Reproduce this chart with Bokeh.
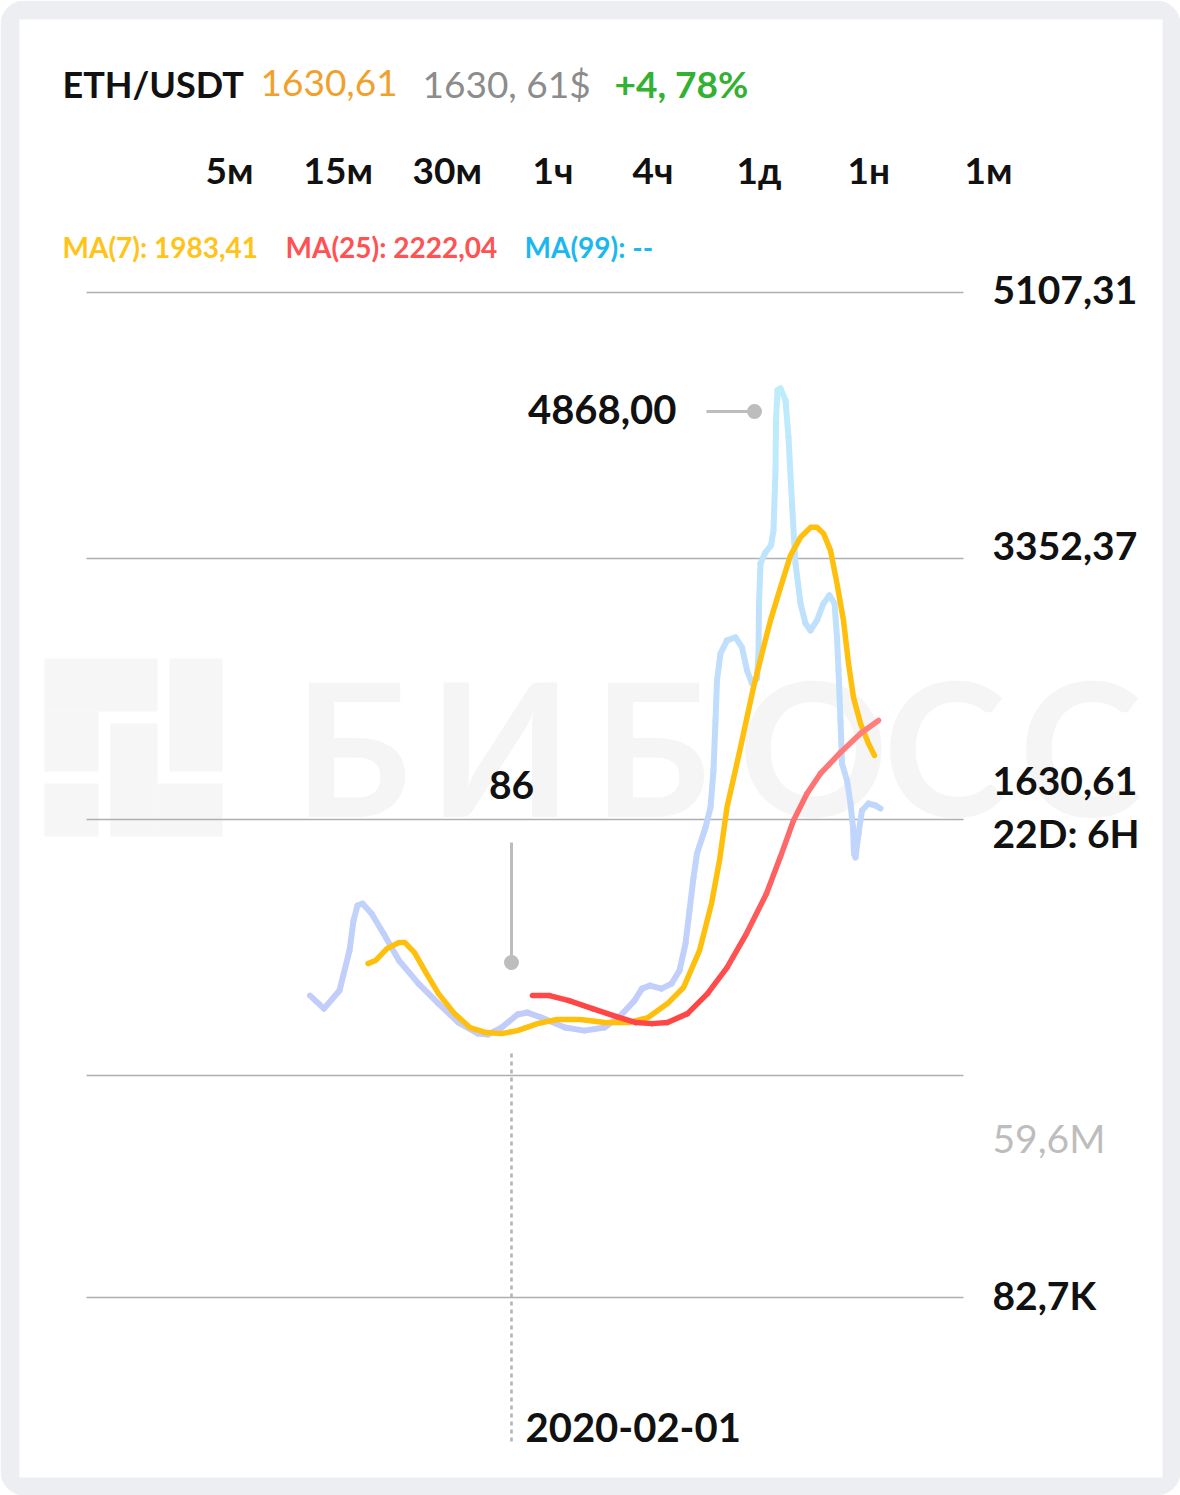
import numpy as np
from bokeh.plotting import figure
from bokeh.models import Range1d
from bokeh.core.properties import value
from bokeh.embed import file_html
from bokeh.resources import INLINE

# ---------------- data ----------------
pair = "ETH/USDT"
last_price = "1630,61"
last_usd = "1630, 61$"
change = "+4, 78%"
timeframes = ["5м", "15м", "30м", "1ч", "4ч", "1д", "1н", "1м"]
ma_labels = ["MA(7): 1983,41", "MA(25): 2222,04", "MA(99): --"]
price_ticks = [5107.31, 3352.37, 1630.61]
price_tick_labels = ["5107,31", "3352,37", "1630,61"]
countdown = "22D: 6H"
vol_ticks = [59.6e6, 82.7e3]
vol_tick_labels = ["59,6M", "82,7K"]
high_label = "4868,00"
low_label = "86"
date_label = "2020-02-01"
watermark = "БИБОСС"

# days relative to 2020-02-01, price in USDT
price_days = [-403, -375, -344, -324, -316, -308, -298, -280, -256, -225, -186, -146, -106, -67, -47,
              -20, 12, 32, 60, 107, 146, 186, 218, 246, 261, 277, 300, 320, 336, 348, 356, 364, 371,
              388, 398, 404, 408, 411, 418, 431, 448, 461, 471, 481, 491, 494, 495, 498, 508, 519,
              524, 528, 529, 532, 538, 548, 554, 561, 568, 578, 588, 598, 611, 624, 636, 646, 651,
              654, 658, 661, 671, 678, 683, 685, 688, 694, 701, 714, 728, 738]
price_vals = [469, 383, 502, 766, 964, 1063, 1076, 1010, 878, 700, 548, 416, 291, 218, 212,
              258, 344, 357, 324, 258, 238, 258, 337, 436, 515, 535, 515, 548, 634, 812, 1030, 1248, 1406,
              1578, 1710, 1954, 2284, 2548, 2726, 2812, 2832, 2766, 2614, 2528, 2561, 2726, 3056, 3320,
              3393, 3439, 3538, 3934, 4264, 4462, 4475, 4396, 4152, 3716, 3320, 3056, 2924, 2878, 2944,
              3056, 3109, 3056, 2832, 2614, 2284, 2000, 1888, 1736, 1578, 1406, 1380, 1538, 1690, 1736,
              1723, 1703]
ma7_days = [-287, -272, -249, -225, -213, -194, -170, -146, -114, -83, -51, -20, 12, 52, 91, 138, 186,
            234, 273, 312, 344, 376, 400, 416, 431, 458, 484, 504, 518, 538, 558, 578, 598, 611, 624,
            638, 651, 664, 674, 684, 698, 714, 726]
ma7_vals = [680, 700, 779, 819, 819, 753, 614, 482, 350, 258, 225, 218, 238, 284, 311, 311, 291, 291,
            324, 416, 522, 766, 1076, 1360, 1710, 2106, 2502, 2766, 2944, 3162, 3373, 3492, 3558, 3558,
            3518, 3406, 3188, 2944, 2660, 2436, 2264, 2132, 2053]
ma25_days = [42, 76, 115, 162, 210, 249, 281, 312, 352, 392, 431, 470, 510, 538, 564, 591, 618, 658, 698, 734]
ma25_vals = [469, 469, 436, 383, 330, 291, 284, 291, 350, 482, 654, 878, 1142, 1386, 1624, 1802, 1934,
             2073, 2198, 2284]

# ---------------- layout helpers (pixel -> data) ----------------
W, H = 1180, 1495
X_ORIGIN_PX = 511
DAYS_PER_PX = 2.0
TOP_TICK_PX, LAST_TICK_PX = 292, 819
PRICE_PER_PX = (price_ticks[0] - price_ticks[2]) / (LAST_TICK_PX - TOP_TICK_PX)
VOL_TOP_PX, VOL_BOT_PX = 1075, 1297
VOL_PER_PX = (vol_ticks[0] - vol_ticks[1]) / (VOL_BOT_PX - VOL_TOP_PX)
BASELINE_FIX = 0.385  # svg text baseline correction (fraction of font size)


def xd(px):
    return (px - X_ORIGIN_PX) * DAYS_PER_PX


def yd(py):
    return price_ticks[2] + (LAST_TICK_PX - py) * PRICE_PER_PX


def vd(py):
    return vol_ticks[1] + (VOL_BOT_PX - py) * VOL_PER_PX


p = figure(width=W, height=H, x_range=Range1d(xd(0), xd(W)), y_range=Range1d(yd(H), yd(0)),
           output_backend="svg", toolbar_location=None, x_axis_type=None, y_axis_type=None,
           title=None, min_border=0, background_fill_color="white", border_fill_color="white",
           outline_line_color=None)
p.extra_y_ranges = {"vol": Range1d(vd(H), vd(0))}

FONT = value("Lato")

# frame & card
p.quad(left=[xd(0)], right=[xd(W)], top=[yd(0)], bottom=[yd(H)], fill_color="#edeef2",
       line_color=None, border_radius=24)
p.quad(left=[xd(19)], right=[xd(1162)], top=[yd(19)], bottom=[yd(1477)], fill_color="white",
       line_color=None)

# watermark logo
logo = [(44, 157, 658, 711), (44, 98, 711, 771), (169, 222, 658, 771), (110, 157, 723, 836),
        (157, 222, 783, 836), (44, 98, 783, 836)]
p.quad(left=[xd(a) for a, b, c, d in logo], right=[xd(b) for a, b, c, d in logo],
       top=[yd(c) for a, b, c, d in logo], bottom=[yd(d) for a, b, c, d in logo],
       fill_color="#f6f6f6", line_color=None)
wm_center = [352, 500, 651, 813, 944, 1080]
WM_SIZE = 186
p.text(x=[xd(v) for v in wm_center], y=[yd(816 - BASELINE_FIX * WM_SIZE)] * len(watermark),
       text=list(watermark), text_font=FONT, text_font_style="bold", text_font_size=f"{WM_SIZE}px",
       text_color="#f5f5f5", text_align="center", text_baseline="alphabetic")

# grid lines
GRID = "#abb0b5"
p.segment(x0=[xd(86)] * 3, x1=[xd(963)] * 3, y0=price_ticks, y1=price_ticks, line_color=GRID,
          line_width=1.4)
p.segment(x0=[xd(86)] * 2, x1=[xd(963)] * 2, y0=vol_ticks, y1=vol_ticks, line_color=GRID,
          line_width=1.4, y_range_name="vol")

# date marker (dotted)
p.segment(x0=[0], x1=[0], y0=[yd(1053)], y1=[yd(1445)], line_color="#b4b4b4", line_width=2.6,
          line_dash="4 4")


def grad_segments(xs, ys, c0, c1, lo, hi, width):
    xs = np.asarray(xs, float)
    ys = np.asarray(ys, float)
    mid = (ys[:-1] + ys[1:]) / 2
    t = np.clip((mid - lo) / (hi - lo), 0, 1)
    cols = []
    for ti in t:
        r, g, b = [int(round(a + (bb - a) * ti)) for a, bb in zip(c0, c1)]
        cols.append("#%02x%02x%02x" % (r, g, b))
    p.segment(x0=xs[:-1], y0=ys[:-1], x1=xs[1:], y1=ys[1:], line_color=cols, line_width=width,
              line_cap="round")


# price line (gradient lavender -> light cyan)
grad_segments(price_days, price_vals, (194, 204, 251), (189, 236, 253), 300, 4400, 6)
# MA(7)
p.line(ma7_days, ma7_vals, line_color="#ffbf0d", line_width=5.5, line_cap="round", line_join="round")
# MA(25) (gradient red -> salmon)
grad_segments(ma25_days, ma25_vals, (255, 70, 70), (255, 128, 128), 400, 2300, 5.5)

# high / low annotations
ANN = "#bdbdbd"
p.segment(x0=[xd(706)], x1=[xd(754)], y0=[yd(411)], y1=[yd(411)], line_color=ANN, line_width=3)
p.scatter(x=[xd(754)], y=[yd(411)], size=15, fill_color=ANN, line_color=None)
p.segment(x0=[0], x1=[0], y0=[yd(842)], y1=[yd(962)], line_color=ANN, line_width=3)
p.scatter(x=[0], y=[yd(962)], size=15, fill_color=ANN, line_color=None)


def txt(px, py, s, color="#111111", size=36, bold=True, align="left"):
    p.text(x=[xd(px)], y=[yd(py - BASELINE_FIX * size)], text=[s], text_font=FONT,
           text_font_style="bold" if bold else "normal", text_font_size=f"{size}px",
           text_color=color, text_align=align, text_baseline="alphabetic")


txt(676, 424, high_label, align="right", size=40)
txt(511, 800, low_label, align="center", size=39)
txt(525, 1442, date_label, size=40)

# header
txt(62, 97, pair, size=36)
txt(260, 97, last_price, color="#f0a12c", size=37, bold=False)
txt(422, 97, last_usd, color="#8c8c8c", size=37, bold=False)
txt(614, 97, change, color="#33b133", size=37)

tf_left = [205, 303, 412, 532, 632, 736, 847, 964]
for x, s in zip(tf_left, timeframes):
    txt(x, 183, s, size=37)

ma_left = [62, 285, 524]
ma_colors = ["#ffc31a", "#ff5252", "#1bb8f0"]
for x, s, c in zip(ma_left, ma_labels, ma_colors):
    txt(x, 257, s, color=c, size=28)

# right-side scale labels
txt(992, 305, price_tick_labels[0], size=39)
txt(992, 561, price_tick_labels[1], size=39)
txt(992, 796, price_tick_labels[2], size=39)
txt(992, 848, countdown, size=39)
txt(992, 1153, vol_tick_labels[0], color="#bdbdbd", size=39, bold=False)
txt(992, 1310, vol_tick_labels[1], size=39)

open("out.html", "w").write(file_html(p, INLINE))
